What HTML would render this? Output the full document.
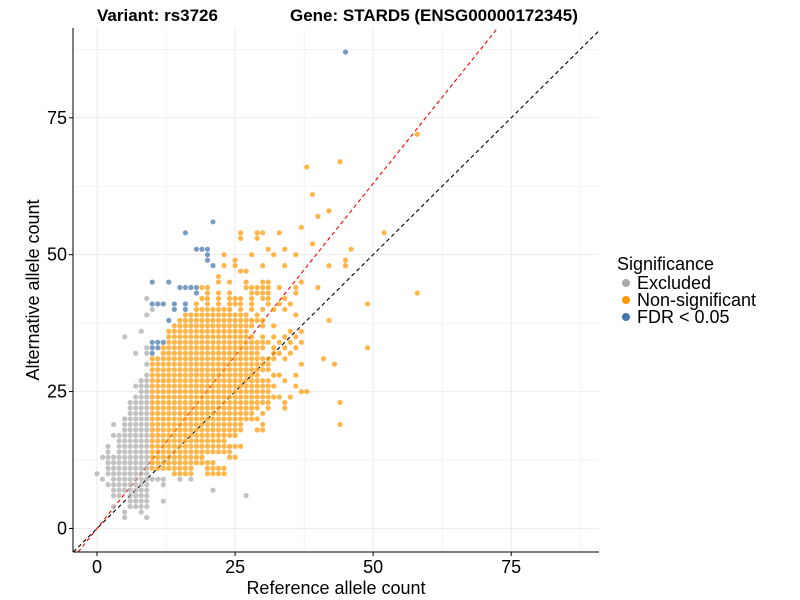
<!DOCTYPE html>
<html><head><meta charset="utf-8">
<style>
html,body{margin:0;padding:0;background:#fff;}
svg{display:block;font-family:"Liberation Sans",Arial,sans-serif;}
</style></head>
<body>
<svg id="chart" width="800" height="600" viewBox="0 0 800 600">
<text x="97" y="21" font-size="17" font-weight="bold" fill="#000">Variant: rs3726</text>
<text x="290" y="21" font-size="17" font-weight="bold" fill="#000">Gene: STARD5 (ENSG00000172345)</text>
<g id="grid"></g>
<g id="lines"></g>
<g id="points"></g>
<g id="axes"></g>
<text x="336" y="594" font-size="18" text-anchor="middle">Reference allele count</text>
<text transform="translate(39,290) rotate(-90)" font-size="18" text-anchor="middle">Alternative allele count</text>
<g>
<text x="617" y="270" font-size="18">Significance</text>
<g><circle cx="626" cy="283" r="4" fill="#aaaaaa"/><text x="637" y="289" font-size="18">Excluded</text></g>
<g><circle cx="626" cy="300" r="4" fill="#ff9900"/><text x="637" y="306" font-size="18">Non-significant</text></g>
<g><circle cx="626" cy="317" r="4" fill="#4477aa"/><text x="637" y="323" font-size="18">FDR &lt; 0.05</text></g>
</g>
</svg>
<script>
const xTicks = [0, 25, 50, 75];
const yTicks = [0, 25, 50, 75];
const greyRows = ["2:5,9","3:5,8","4:3,6-9","5:6-9,12","6:3-4,6-9,27","7:3-9,21","8:2-9,12","9:1,3-12,15,17","10:0,2-9","11:2-9","12:2-9","13:1-9","14:2,4-9","15:2,4-9","16:4-9","17:3-9","18:5-9","19:3,5-9","20:5-9","21:6-9","22:6-9","23:6-9","24:7-9","25:8-9","26:7-9","27:8-9","28:9","30:9","32:7,9","33:9","35:5","36:8","39:9","40:10","42:9"];
const orangeRows = ["10:14-17,20-23","11:10-17,20-23","12:10-21","13:10-19,24,25","14:10-24","15:10-26","16:10-23","17:10-25","18:10-26,29,30","19:10-26,30,44","20:10-29","21:10-28,30","22:10-29,31,34","23:10-31,34,44","24:10-33,35","25:10-31,37,38","26:10-32,36","27:10-31,34","28:10-29,32,33,36","29:10-31","30:10-31,37,43","31:10-32,34,41","32:12-29,32,33,35","33:12-29,30,32,34,36,49","34:13-31,33,35,37","35:13-28,30,32,34,36","36:13-27,35,37","37:14-28,30,32","38:15-30,42","39:16-27,29,36","40:18-24,26,28,30,32,34","41:18,20,22,24-26,28,31,33,35,49","42:19,20,22,24-26,28,30,31,34","43:20,22,24,28-31,36,58","44:19,20,27-31,33,36,40","45:22,24,27,30,31,37","46:22","47:26,27","48:23,25,30,34,42,45","49:25,45","50:23,28,32,36","51:31,34,46","52:39","53:26,29","54:26,29,30,33,52","55:37","57:40","58:42","61:39","66:38","67:44","72:58"];
const blueRows = ["32:10","33:10-11","34:10-12","38:13","40:14,16","41:10-12,14,16","43:18","44:15-18","45:10,13","48:21","49:20","50:20","51:18-20","54:16","56:21","87:45"];
const yMin = -4.3, yMax = 91.4, xMin = -4.35, xMax = 90.9;
const L = 73, R = 599, T = 28, B = 552;
const sx = v => L + (v - xMin) / (xMax - xMin) * (R - L);
const sy = v => B - (v - yMin) / (yMax - yMin) * (B - T);
const NS = "http://www.w3.org/2000/svg";
function mk(tag, attrs, parent) {
  const e = document.createElementNS(NS, tag);
  for (const k in attrs) e.setAttribute(k, attrs[k]);
  parent.appendChild(e);
  return e;
}
function parseRows(rows) {
  const pts = [];
  rows.forEach(r => {
    const [y, xs] = r.split(":");
    xs.split(",").forEach(p => {
      const [a, b] = p.split("-").map(Number);
      const end = isNaN(b) ? a : b;
      for (let x = a; x <= end; x++) pts.push([x, +y]);
    });
  });
  return pts;
}
const grid = document.getElementById("grid");
const minorX = [12.5, 37.5, 62.5, 87.5], minorY = [12.5, 37.5, 62.5, 87.5];
minorX.concat(xTicks).forEach(v => {
  const l = mk("line", {x1: sx(v), x2: sx(v), y1: T, y2: B, stroke: "#ebebeb", "stroke-width": xTicks.includes(v) ? 1 : 0.6}, grid);
  
  
});
minorY.concat(yTicks).forEach(v => {
  const l = mk("line", {x1: L, x2: R, y1: sy(v), y2: sy(v), stroke: "#ebebeb", "stroke-width": yTicks.includes(v) ? 1 : 0.6}, grid);
  
  
});
const pg = document.getElementById("points");
function draw(rows, color, name) {
  parseRows(rows).forEach(([x, y]) => {
    const c = mk("circle", {cx: sx(x), cy: sy(y), r: 2.6, fill: color, "fill-opacity": 0.72}, pg);
    
    
  });
}
draw(greyRows, "#aaaaaa", "point-excluded");
draw(orangeRows, "#ff9900", "point-non-significant");
draw(blueRows, "#4477aa", "point-fdr");
const lg = document.getElementById("lines");
const slope = 1.26;
const idl = mk("line", {x1: sx(yMin), y1: sy(yMin), x2: sx(xMax), y2: sy(xMax), stroke: "#000", "stroke-dasharray": "4,3", "stroke-width": 1.1}, lg);


const rl = mk("line", {x1: sx(yMin / slope), y1: sy(yMin), x2: sx(yMax / slope), y2: sy(yMax), stroke: "#ff0000", "stroke-dasharray": "4,3", "stroke-width": 1.1}, lg);


const ax = document.getElementById("axes");
const xa = mk("line", {x1: L, x2: R, y1: B, y2: B, stroke: "#000", "stroke-width": 1}, ax);


const ya = mk("line", {x1: L, x2: L, y1: T, y2: B, stroke: "#000", "stroke-width": 1}, ax);


xTicks.forEach(v => {
  mk("line", {x1: sx(v), x2: sx(v), y1: B, y2: B + 4, stroke: "#000"}, ax);
  const t = mk("text", {x: sx(v), y: B + 21, "font-size": 18, "text-anchor": "middle", fill: "#000"}, ax);
  t.textContent = v;
  
  
});
yTicks.forEach(v => {
  mk("line", {x1: L - 4, x2: L, y1: sy(v), y2: sy(v), stroke: "#000"}, ax);
  const t = mk("text", {x: L - 6, y: sy(v) + 6, "font-size": 18, "text-anchor": "end", fill: "#000"}, ax);
  t.textContent = v;
  
  
});
</script>
</body></html>
